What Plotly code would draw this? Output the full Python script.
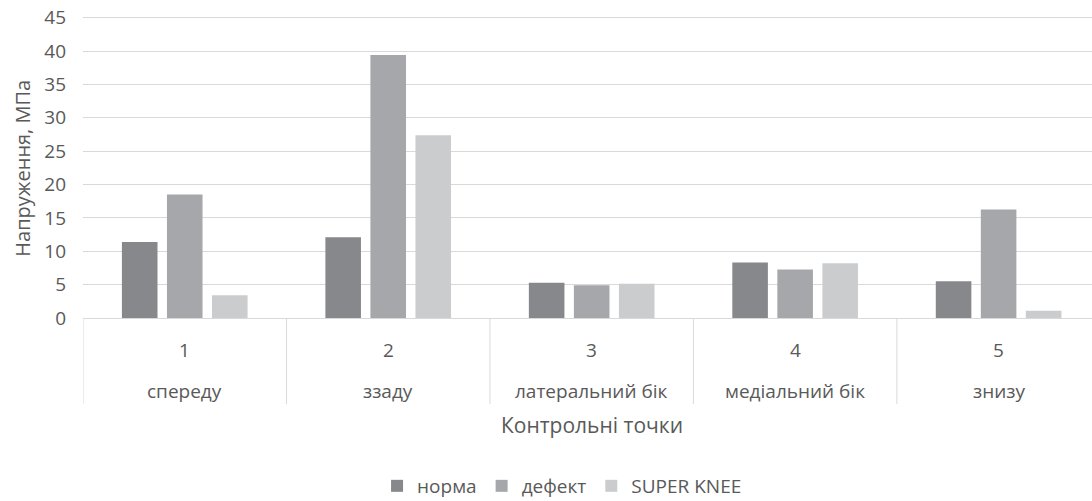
import plotly.graph_objects as go

numbers = ["1", "2", "3", "4", "5"]
names = ["спереду", "ззаду", "латеральний бік", "медіальний бік", "знизу"]
norma = [11.4, 12.1, 5.3, 8.3, 5.5]
defekt = [18.5, 39.4, 4.9, 7.25, 16.25]
super_knee = [3.4, 27.4, 5.15, 8.2, 1.1]
y_ticks = [0, 5, 10, 15, 20, 25, 30, 35, 40, 45]

FONT = "Open Sans"
TXT = "#595959"
GRID = "#d9d9d9"
LBL = 19

fig = go.Figure()
series = [("норма", norma, "#87888c"), ("дефект", defekt, "#a6a7aa"), ("SUPER KNEE", super_knee, "#cbcccd")]
for nm, vals, col in series:
    fig.add_trace(go.Bar(x=names, y=vals, name=nm, marker=dict(color=col, line=dict(width=0))))

annotations = []
for nmb, nm in zip(numbers, names):
    annotations.append(dict(x=nm, y=-0.1042, xref="x", yref="paper", text=nmb, showarrow=False,
                            yanchor="middle", font=dict(family=FONT, size=LBL, color=TXT)))
    annotations.append(dict(x=nm, y=-0.2378, xref="x", yref="paper", text=nm, showarrow=False,
                            yanchor="middle", font=dict(family=FONT, size=LBL, color=TXT)))
annotations.append(dict(x=names[2], y=-0.3485, xref="x", yref="paper", text="Контрольні точки", showarrow=False,
                        yanchor="middle", font=dict(family=FONT, size=21, color=TXT)))
annotations.append(dict(x=-0.074, y=0.489, xref="paper", yref="paper", text="Напруження, МПа", showarrow=False,
                        textangle=-90, xanchor="left", yanchor="middle", borderpad=0,
                        font=dict(family=FONT, size=20, color=TXT)))

shapes = []
for i in range(len(names) + 1):
    shapes.append(dict(type="line", x0=i - 0.5, x1=i - 0.5, y0=0, y1=-0.280, xref="x", yref="paper",
                       line=dict(color=GRID, width=1)))

# the reference chart is cropped on the right, so the last category is partly cut off
fig.update_layout(
    width=1092, height=501,
    margin=dict(l=83, r=0, t=11, b=183, autoexpand=False),
    paper_bgcolor="white", plot_bgcolor="white",
    bargap=0.336, bargroupgap=0.21,
    font=dict(family=FONT, color=TXT),
    xaxis=dict(showticklabels=False, range=[-0.5, 4.459], showgrid=False, showline=True,
               linecolor=GRID, linewidth=1, zeroline=False, fixedrange=True, automargin=False),
    yaxis=dict(range=[0, 46], tickvals=y_ticks, showgrid=True, gridcolor=GRID, gridwidth=1,
               zeroline=False, showline=False, tickfont=dict(family=FONT, size=LBL, color=TXT),
               ticklabelstandoff=16, automargin=False),
    legend=dict(orientation="h", xref="container", yref="container", x=0.5147, y=0.030,
                xanchor="center", yanchor="middle", font=dict(family=FONT, size=LBL, color=TXT),
                itemwidth=30, tracegroupgap=0),
    annotations=annotations,
    shapes=shapes,
)

fig.write_html("out.html", config={"displayModeBar": False},
               post_script="document.body.style.margin='0';")
